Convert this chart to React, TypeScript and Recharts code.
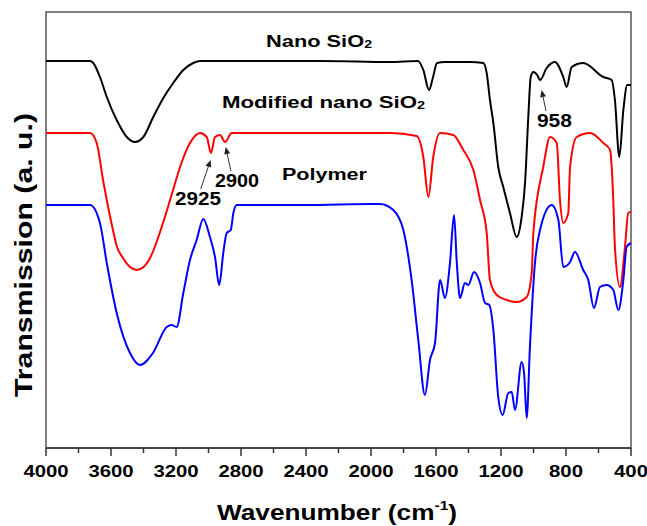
import { LineChart, Line, XAxis, YAxis, ReferenceArea, ReferenceDot, ReferenceLine } from "recharts"

const FONT = "'Liberation Sans', Arial, sans-serif"

// wavenumber (cm-1) and transmission (a. u.)
const nanoWn = [4000, 3852, 3729, 3709, 3668, 3626, 3565, 3503, 3452, 3401, 3340, 3278, 3217, 3155, 3094, 3052, 2700, 2300, 1883, 1711, 1678, 1643, 1618, 1594, 1545, 1391, 1309, 1288, 1268, 1247, 1217, 1186, 1145, 1103, 1073, 1052, 1032, 1017, 1001, 977, 960, 919, 868, 817, 796, 765, 694, 570, 519, 499, 472, 447, 423, 400]
const nanoT = [387, 387, 387, 385, 371, 351, 328, 311, 306, 311, 331, 350, 365, 378, 385, 387, 387, 387, 386, 387, 378, 358, 371, 385, 386, 386, 385, 375, 348, 325, 281, 261, 235, 211, 231, 265, 331, 371, 376, 373, 368, 380, 386, 371, 361, 381, 385, 371, 368, 348, 291, 338, 363, 363]

const modWn = [4000, 3729, 3688, 3649, 3626, 3588, 3565, 3526, 3483, 3442, 3400, 3360, 3280, 3218, 3175, 3114, 3052, 3011, 2985, 2960, 2929, 2898, 2857, 2300, 1883, 1719, 1678, 1647, 1617, 1575, 1494, 1432, 1370, 1329, 1288, 1268, 1226, 1165, 1103, 1042, 1011, 1001, 940, 898, 857, 837, 817, 786, 775, 734, 652, 570, 529, 509, 499, 468, 437, 417, 400]
const modT = [315, 315, 305, 268, 248, 218, 202, 190, 181, 178, 181, 190, 225, 258, 281, 305, 315, 311, 295, 311, 313, 306, 315, 315, 315, 312, 291, 251, 291, 315, 313, 298, 278, 248, 215, 168, 153, 148, 146, 151, 175, 215, 281, 311, 305, 248, 225, 235, 281, 311, 315, 305, 298, 248, 201, 161, 201, 235, 236]

const polyWn = [4000, 3729, 3668, 3626, 3565, 3483, 3422, 3342, 3257, 3226, 3196, 3155, 3114, 3073, 3032, 2991, 2960, 2934, 2909, 2888, 2863, 2847, 2826, 2400, 2000, 1945, 1863, 1801, 1750, 1709, 1668, 1637, 1606, 1575, 1545, 1514, 1489, 1472, 1452, 1422, 1401, 1366, 1329, 1298, 1272, 1247, 1217, 1190, 1155, 1134, 1114, 1073, 1058, 1042, 1022, 991, 960, 888, 847, 817, 775, 745, 694, 663, 628, 591, 550, 509, 478, 447, 427, 400]
const polyT = [243, 243, 225, 185, 135, 95, 83, 95, 121, 123, 121, 155, 188, 208, 229, 211, 191, 163, 195, 215, 218, 235, 243, 243, 244, 244, 238, 218, 168, 108, 53, 88, 105, 168, 150, 185, 233, 185, 150, 165, 163, 176, 165, 145, 143, 118, 51, 33, 55, 56, 38, 86, 75, 30, 101, 185, 218, 243, 228, 181, 186, 196, 178, 168, 140, 161, 163, 158, 138, 168, 201, 205]

const xTicks = [4000, 3800, 3600, 3400, 3200, 3000, 2800, 2600, 2400, 2200, 2000, 1800, 1600, 1400, 1200, 1000, 800, 600, 400]

const notes = [
  { text: "Nano SiO", sub: "2", wn: 2646, t: 401, size: 16, width: 106 },
  { text: "Modified nano SiO", sub: "2", wn: 2917, t: 340, size: 16, width: 203 },
  { text: "Polymer", sub: "", wn: 2548, t: 268, size: 16, width: 85 },
  { text: "2925", sub: "", wn: 3206, t: 243, size: 18, width: 46 },
  { text: "2900", sub: "", wn: 2960, t: 261, size: 18, width: 44 },
  { text: "958", sub: "", wn: 979, t: 321, size: 18, width: 35 },
]

const arrows = [
  [{ x: 3048, y: 259 }, { x: 2987, y: 288 }],
  [{ x: 2862, y: 277 }, { x: 2894, y: 301 }],
  [{ x: 923, y: 337 }, { x: 950, y: 358 }],
]

const toPoints = (wn: number[], t: number[]) => wn.map((w, i) => ({ wn: w, t: t[i] }))

const nano = toPoints(nanoWn, nanoT)
const modified = toPoints(modWn, modT)
const polymer = toPoints(polyWn, polyT)

function WnTick(props: any) {
  const { x, y, payload } = props
  const major = payload.value % 400 === 0
  const label = String(payload.value)
  return (
    <g>
      <line x1={x} x2={x} y1={y} y2={y + (major ? 8 : 5)} stroke="#333" strokeWidth={1.5} />
      {major && (
        <text
          x={x}
          y={y + 29}
          textAnchor="middle"
          fontFamily={FONT}
          fontWeight="bold"
          fontSize={16}
          textLength={label.length * 11.3}
          lengthAdjust="spacingAndGlyphs"
          fill="#000"
        >
          {label}
        </text>
      )}
    </g>
  )
}

function Arrow(props: any) {
  const { x1, y1, x2, y2 } = props
  const a = Math.atan2(y2 - y1, x2 - x1)
  const len = 7
  const w = 3
  const bx = x2 - len * Math.cos(a)
  const by = y2 - len * Math.sin(a)
  const px = -Math.sin(a) * w
  const py = Math.cos(a) * w
  return (
    <g>
      <line x1={x1} y1={y1} x2={bx} y2={by} stroke="#333" strokeWidth={1} />
      <polygon points={`${x2},${y2} ${bx + px},${by + py} ${bx - px},${by - py}`} fill="#222" />
    </g>
  )
}

export default function App() {
  return (
    <div style={{ position: "absolute", left: 0, top: 0, width: 647, height: 526, background: "#fff" }}>
      <LineChart width={647} height={526} margin={{ top: 12, right: 16, bottom: 0, left: 46 }}>
        <XAxis
          type="number"
          dataKey="wn"
          domain={[400, 4000]}
          reversed
          ticks={xTicks}
          interval={0}
          tickSize={0}
          tickMargin={0}
          tickLine={false}
          tick={<WnTick />}
          axisLine={{ stroke: "#333", strokeWidth: 1.5 }}
          height={78}
        />
        <YAxis type="number" dataKey="t" domain={[0, 436]} hide />
        <ReferenceArea x1={4000} x2={400} y1={0} y2={436} fill="none" stroke="#555" strokeWidth={1.5} />
        <Line data={nano} dataKey="t" type="monotone" stroke="#000" strokeWidth={2} dot={false} isAnimationActive={false} />
        <Line data={modified} dataKey="t" type="monotone" stroke="#ff0000" strokeWidth={2} dot={false} isAnimationActive={false} />
        <Line data={polymer} dataKey="t" type="monotone" stroke="#0000ff" strokeWidth={2} dot={false} isAnimationActive={false} />
        {arrows.map((seg, i) => (
          <ReferenceLine key={"a" + i} segment={seg} shape={(p: any) => <Arrow {...p} />} />
        ))}
        {notes.map((n) => (
          <ReferenceDot
            key={n.text}
            x={n.wn}
            y={n.t}
            r={0}
            shape={(p: any) => (
              <text
                x={p.cx}
                y={p.cy}
                fontFamily={FONT}
                fontWeight="bold"
                fontSize={n.size}
                textLength={n.width}
                lengthAdjust="spacingAndGlyphs"
                fill="#000"
              >
                {n.text}
                {n.sub && (
                  <tspan fontSize={n.size * 0.65} dy={1}>
                    {n.sub}
                  </tspan>
                )}
              </text>
            )}
          />
        ))}
      </LineChart>
      <svg width={647} height={526} style={{ position: "absolute", left: 0, top: 0, pointerEvents: "none" }}>
        <text
          x={337}
          y={520}
          textAnchor="middle"
          fontFamily={FONT}
          fontWeight="bold"
          fontSize={22}
          textLength={240}
          lengthAdjust="spacingAndGlyphs"
          fill="#000"
        >
          Wavenumber (cm
          <tspan fontSize={13} dy={-10}>
            -1
          </tspan>
          <tspan fontSize={22} dy={10}>
            )
          </tspan>
        </text>
        <text
          transform="translate(32,255) rotate(-90)"
          textAnchor="middle"
          fontFamily={FONT}
          fontWeight="bold"
          fontSize={23}
          textLength={284}
          lengthAdjust="spacingAndGlyphs"
          fill="#000"
        >
          Transmission (a. u.)
        </text>
      </svg>
    </div>
  )
}
